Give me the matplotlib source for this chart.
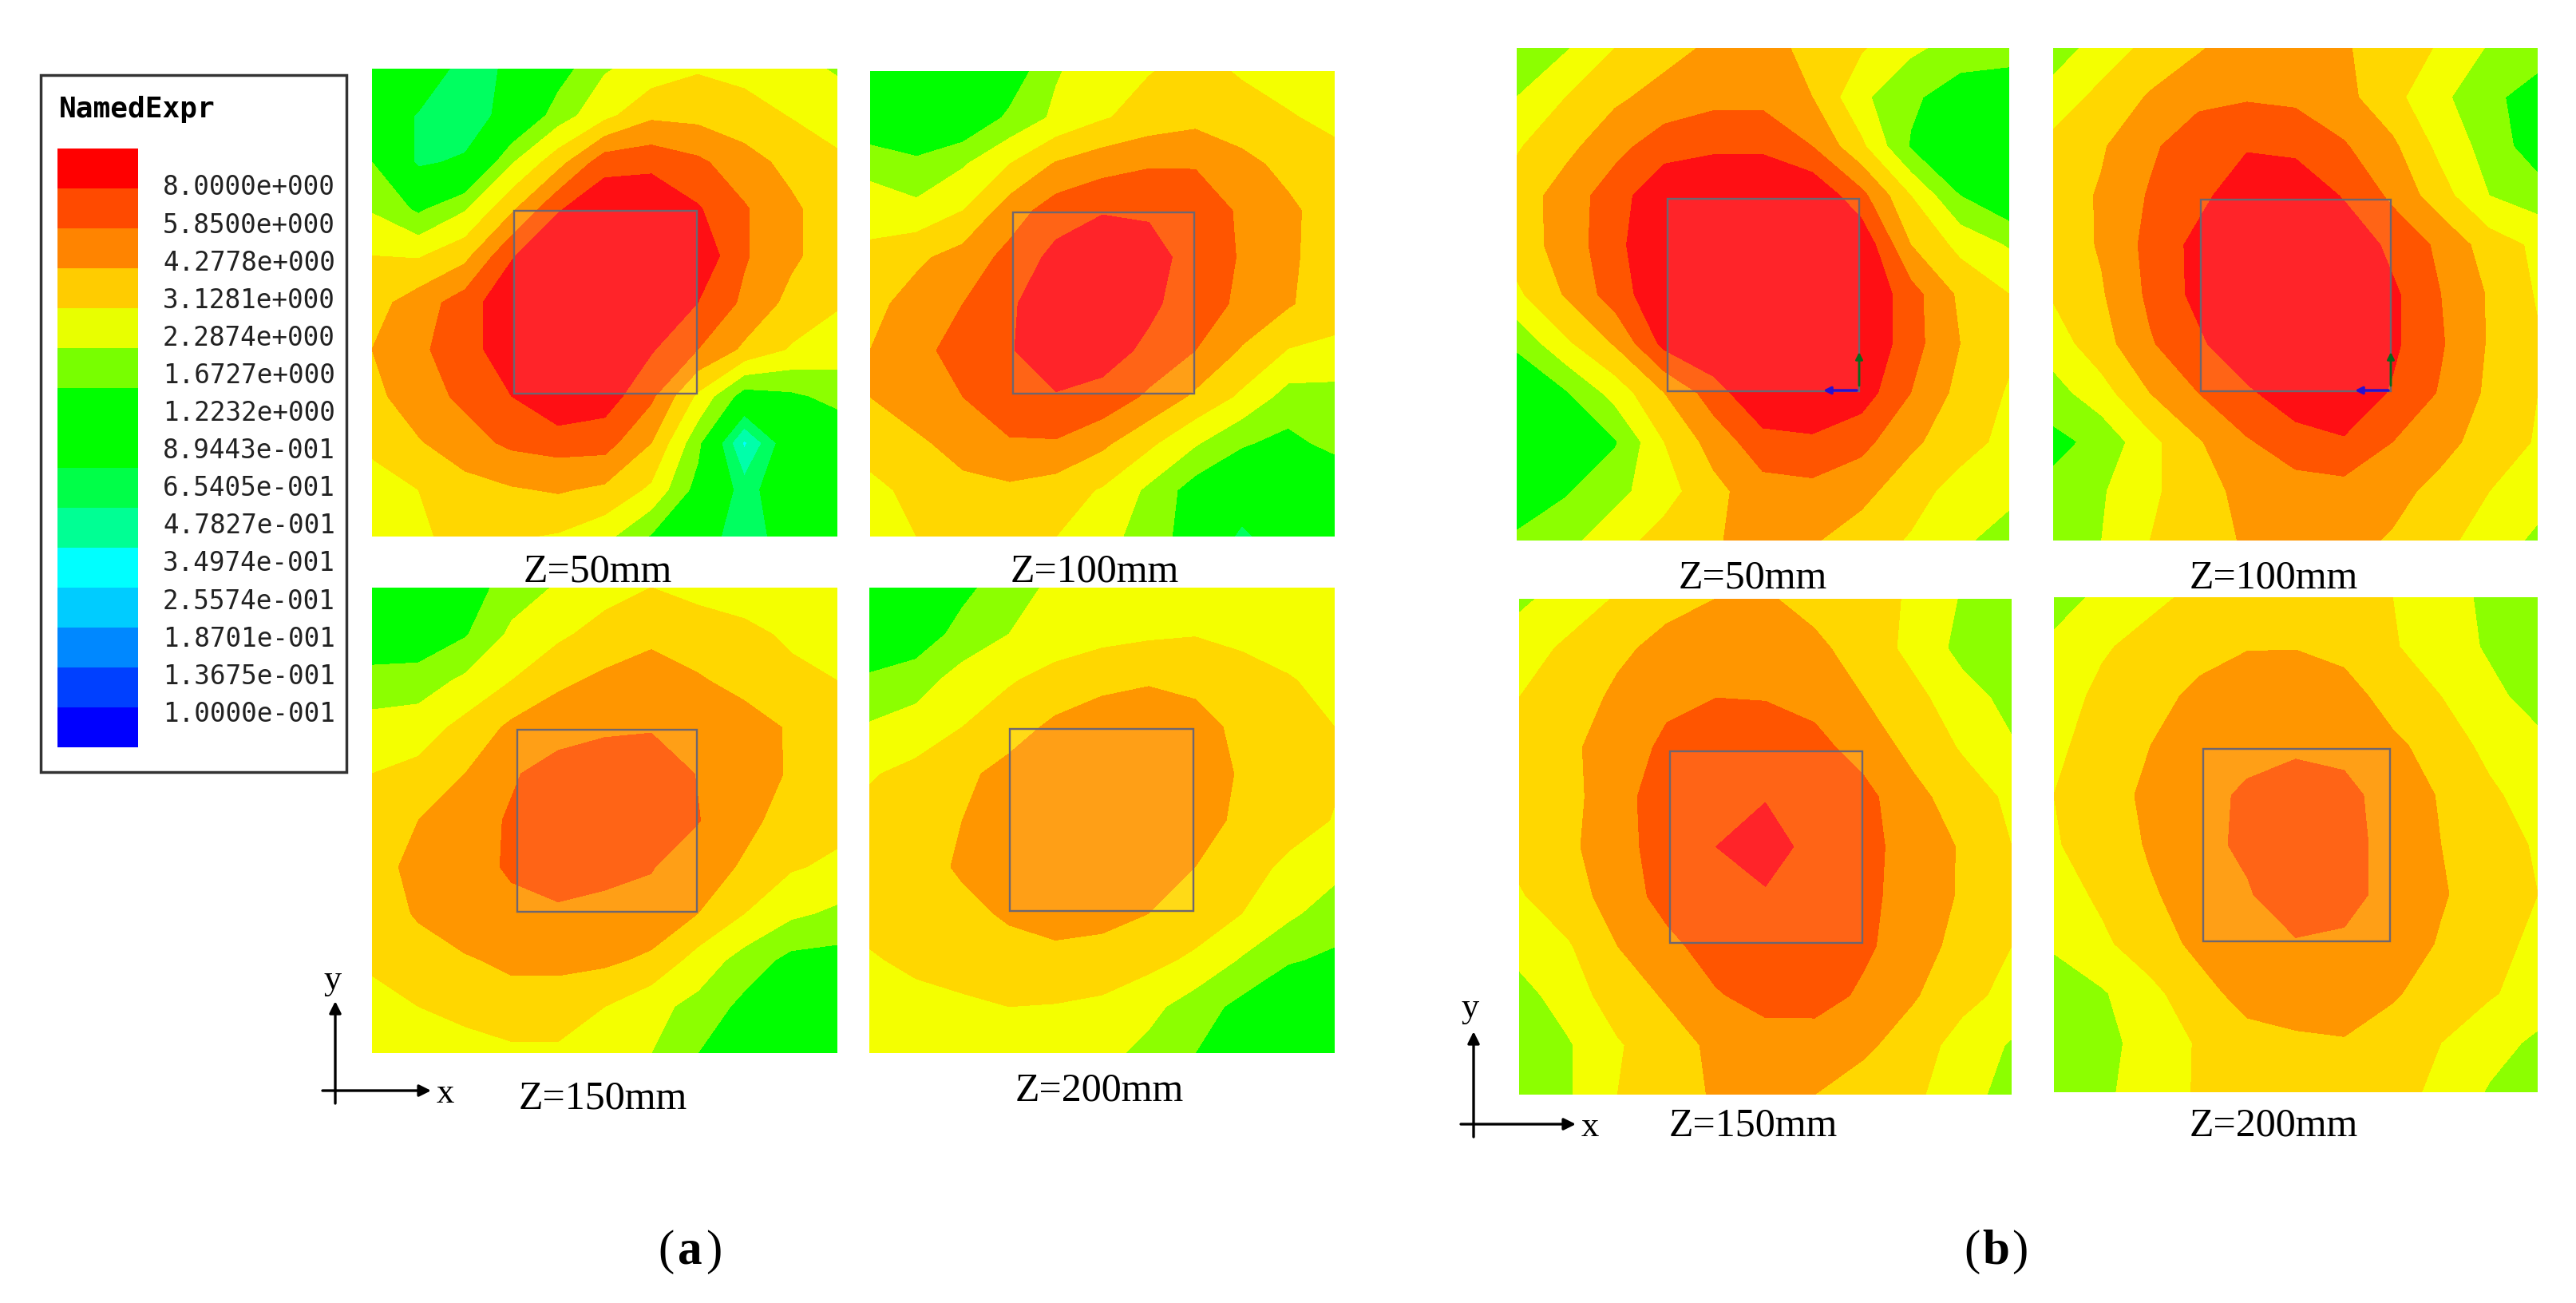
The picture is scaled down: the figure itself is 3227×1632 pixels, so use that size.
import matplotlib
matplotlib.use("Agg")
import matplotlib.pyplot as plt
from matplotlib.patches import Rectangle
import numpy as np

W, H = 3227, 1633

# legend
legend_title = "NamedExpr"
legend_labels = ["8.0000e+000", "5.8500e+000", "4.2778e+000", "3.1281e+000", "2.2874e+000",
                 "1.6727e+000", "1.2232e+000", "8.9443e-001", "6.5405e-001", "4.7827e-001",
                 "3.4974e-001", "2.5574e-001", "1.8701e-001", "1.3675e-001", "1.0000e-001"]
legend_colors = ["#ff0000", "#ff4a00", "#ff8400", "#ffcc00", "#e8ff00", "#78ff00", "#00ff00", "#00ff00",
                 "#00ff48", "#00ff94", "#00ffff", "#00ccff", "#0088ff", "#0040ff", "#0000ff"]

# bands of the contour plots, field given as legend step number
band_levels = [0, 1, 2, 3, 5, 6, 7, 8, 9, 10, 12]
band_colors = ["#00ffff", "#00ffaa", "#00ff60", "#00ff00", "#8cff00", "#f4ff00",
               "#ffd700", "#ff9600", "#ff5500", "#ff0f14"]

# (a) measured
a50 = [
    [4, 4, 2.5, 3.2, 4.5, 5.9, 6.4, 6.9, 6.7, 6.3, 5.9],
    [4, 2.9, 2.2, 3.6, 5.5, 6.7, 7.8, 7.7, 7.4, 6.95, 6.5],
    [5, 2.8, 3.2, 5.9, 7.6, 9.6, 9.7, 9.2, 8.4, 7.7, 7.2],
    [5.9, 4.8, 5.9, 7.8, 9.9, 10.8, 10.9, 10.1, 9.1, 8.2, 7.4],
    [7, 6.9, 7.7, 9.9, 11, 11, 11, 10.8, 9.1, 8.2, 7.4],
    [7.6, 8.5, 9.5, 10.8, 11, 11, 11, 10, 8.8, 7.7, 7.1],
    [8, 8.8, 9.6, 10.6, 11, 11, 10.1, 9, 7.8, 6.9, 6.5],
    [7.7, 8.6, 9.2, 10, 11, 10.5, 9.2, 6.8, 4.5, 4.8, 5.3],
    [7.2, 7.9, 8.6, 9.2, 9.4, 9.4, 8, 5.3, 0.8, 4, 4.2],
    [6.6, 7, 7.6, 7.9, 8.1, 7.8, 6.8, 4.6, 2.5, 4, 4],
    [6.5, 6.9, 7.2, 7.1, 6.9, 6.3, 4.9, 3.5, 2.5, 3.5, 4],
]
a100 = [
    [4, 4, 4, 4.3, 5.9, 6.6, 6.95, 7.3, 6.9, 6.5, 6.3],
    [4, 4, 4, 5.2, 6.2, 6.9, 7.4, 7.7, 7.4, 7.1, 6.7],
    [5.7, 5.2, 5.9, 7, 8.1, 8.6, 8.9, 8.9, 8.3, 7.7, 7.4],
    [6.5, 6.3, 7, 8.5, 9.5, 9.9, 9.9, 9.8, 8.8, 8.2, 7.5],
    [7.3, 7.8, 8.4, 9.3, 10.3, 11, 10.3, 9.7, 8.9, 8.2, 7.4],
    [7.7, 8.4, 9, 9.8, 10.9, 11, 10.2, 9.5, 8.8, 8.1, 7.4],
    [8, 8.7, 9.4, 9.9, 10.8, 10.4, 9.8, 9, 7.9, 6.95, 6.8],
    [8, 8.6, 9, 9.6, 9.9, 9.7, 8.8, 7.8, 6.8, 5.6, 5.6],
    [7.3, 7.8, 8.4, 8.9, 8.9, 8.2, 7.2, 6.1, 5.1, 4.7, 5.3],
    [6.8, 7.2, 7.7, 7.8, 7.5, 6.9, 5.8, 4.5, 4, 4, 4],
    [6.3, 7, 7.3, 7.3, 7, 6.4, 5.5, 4.5, 2.7, 4, 4],
]
a150 = [
    [4, 4, 4.4, 5.5, 6.1, 6.6, 7, 6.7, 6.4, 6.2, 6],
    [4, 4.2, 4.9, 6.2, 6.8, 7.4, 7.7, 7.5, 7.3, 6.8, 6.4],
    [5.5, 5.5, 6.2, 7, 7.8, 8.2, 8.6, 8.1, 7.7, 7.3, 7],
    [6.3, 6.5, 7.3, 8.2, 8.6, 8.8, 8.9, 8.7, 8.4, 7.9, 7.4],
    [7, 7.3, 8, 8.9, 9.4, 9.7, 9.7, 8.95, 8.5, 7.9, 7.5],
    [7.3, 8, 8.6, 9.1, 9.5, 9.7, 9.6, 9.05, 8.2, 7.7, 7.3],
    [7.6, 8.3, 8.7, 9.1, 9.6, 9.3, 9.05, 8.4, 7.9, 7.1, 6.8],
    [7.5, 8.1, 8.6, 8.8, 8.8, 8.7, 8.7, 8, 7, 6.2, 5.8],
    [7.2, 7.6, 7.9, 8.2, 8.2, 8.2, 7.8, 6.6, 5.6, 4.7, 4.6],
    [6.6, 7, 7.3, 7.6, 7.6, 7, 6.3, 5.7, 4.7, 4, 4],
    [6.3, 6.5, 6.6, 6.8, 6.8, 6.5, 6, 5, 4, 4, 4],
]
a200 = [
    [4, 4, 4.7, 5.6, 6.2, 6.4, 6.5, 6.5, 6.4, 6.3, 6.2],
    [4, 4.3, 5.4, 6, 6.4, 6.7, 6.85, 6.95, 6.7, 6.4, 6.2],
    [5.2, 5.6, 6.4, 6.9, 7.4, 7.7, 7.9, 7.8, 7.5, 7.1, 6.6],
    [6.1, 6.4, 7, 7.6, 8.2, 8.6, 8.7, 8.3, 7.8, 7.4, 7],
    [6.9, 7.3, 7.8, 8.3, 8.7, 8.9, 8.9, 8.5, 7.9, 7.5, 7.1],
    [7.3, 7.6, 8, 8.5, 8.8, 8.9, 8.9, 8.4, 7.8, 7.4, 6.95],
    [7.4, 7.7, 8.1, 8.5, 8.8, 8.9, 8.7, 8, 7.4, 6.8, 6.3],
    [7.3, 7.6, 7.8, 8.1, 8.4, 8.3, 8, 7.6, 7, 6.2, 5.5],
    [6.9, 7.2, 7.5, 7.7, 7.7, 7.6, 7.3, 6.8, 5.9, 5.1, 4.8],
    [6.5, 6.7, 6.8, 7, 6.95, 6.8, 6.3, 5.5, 4.7, 4, 4],
    [6.2, 6.4, 6.5, 6.6, 6.5, 6.3, 5.7, 5, 4, 4, 4],
]

# (b) simulated
b50 = [
    [5.6, 5.9, 7, 7.6, 8.2, 8.5, 7.6, 7.1, 6.2, 5.6, 5.5],
    [6, 7, 7.8, 8.4, 8.7, 8.7, 8, 6.2, 5.2, 4.4, 4.2],
    [6.9, 7.7, 8.7, 9.5, 9.8, 9.8, 9, 7.2, 4.9, 4, 4],
    [7.4, 8.5, 9.5, 10.9, 11, 11, 10.9, 9.3, 7, 5, 4],
    [7.5, 8.4, 9.7, 11, 11, 11, 11, 10.8, 8, 6.7, 5.9],
    [6.8, 8.1, 9.5, 10.8, 11, 11, 11, 11, 9.4, 7.8, 7],
    [5.2, 6.8, 8.1, 10.3, 11, 11, 11, 11, 9.4, 8, 7.2],
    [4, 4.9, 6.4, 8, 9.5, 11, 11, 10.5, 9, 7.7, 6.9],
    [4, 4, 4.9, 7, 8.4, 9.6, 9.8, 9.3, 8.2, 7.4, 6.7],
    [4.2, 4.9, 5.7, 6.6, 7.7, 8.6, 8.7, 8.3, 7.4, 6.6, 6.3],
    [5.2, 5.7, 6.6, 7.4, 7.9, 8.4, 8.1, 7.5, 6.9, 6.2, 5.5],
]
b100 = [
    [5.5, 6.4, 7.3, 7.9, 8.5, 8.5, 8.1, 7.5, 6.9, 5.9, 5.6],
    [6.4, 7.3, 8.1, 8.7, 8.9, 8.8, 8.3, 7.3, 6.2, 5.3, 4.4],
    [7.3, 7.9, 8.8, 9.7, 9.9, 9.7, 9.1, 8.2, 6.7, 5.6, 4.4],
    [7.5, 8.1, 9.1, 9.7, 10.7, 10.9, 9.9, 8.8, 7.4, 6, 5.5],
    [7.4, 8.1, 9.3, 10.3, 11, 11, 10.9, 9.7, 8.8, 7.5, 6.8],
    [7.1, 7.9, 9.2, 10.3, 11, 11, 11, 10.2, 9, 7.9, 6.9],
    [6.5, 7.6, 8.9, 9.8, 10.9, 11, 11, 10.2, 9.1, 7.9, 7.1],
    [5.6, 6.6, 8, 9, 9.8, 10.7, 10.7, 9.9, 8.9, 7.8, 7],
    [4.7, 5.3, 6.7, 7.9, 8.9, 9.5, 9.9, 9, 8.3, 7.6, 6.9],
    [5.3, 5.9, 6.8, 7.6, 8.3, 8.6, 8.6, 8.3, 7.7, 7, 6.4],
    [5.6, 6, 7, 7.6, 8.1, 8.4, 8.3, 7.9, 7.3, 6.5, 5.8],
]
b150 = [
    [5.8, 6.4, 7.1, 7.7, 8, 8.1, 7.7, 7.3, 6.9, 5.9, 5.7],
    [6.5, 7.2, 7.8, 8.3, 8.7, 8.8, 8.2, 7.6, 6.7, 5.7, 5.5],
    [7, 7.5, 8.2, 8.8, 9, 8.95, 8.7, 8, 7.3, 6.4, 5.7],
    [7.2, 7.8, 8.5, 9.2, 9.7, 9.7, 9.3, 8.6, 7.7, 6.9, 6.1],
    [7.3, 7.7, 8.6, 9.6, 9.9, 9.95, 9.9, 9.3, 8.3, 7.5, 6.8],
    [7.3, 7.8, 8.6, 9.5, 10, 10.4, 9.7, 9.3, 8.6, 7.9, 7],
    [6.9, 7.6, 8.4, 9.4, 9.8, 9.9, 9.8, 9.3, 8.5, 7.9, 7.1],
    [6.4, 6.9, 8, 8.7, 9.5, 9.7, 9.6, 9.2, 8.4, 7.7, 7],
    [5.6, 6.5, 7.5, 8.1, 8.9, 9.4, 9.5, 8.8, 8.1, 7.3, 6.7],
    [5.2, 5.9, 6.9, 7.6, 8.2, 8.5, 8.4, 8.2, 7.5, 6.6, 5.9],
    [5.2, 5.9, 7, 7.6, 8.1, 8.3, 8, 7.5, 7.2, 6.4, 5.6],
]
b200 = [
    [5.6, 6.2, 6.8, 7.2, 7.5, 7.5, 7.4, 7, 6.4, 5.8, 5.6],
    [6.2, 6.9, 7.3, 7.7, 7.95, 7.95, 7.7, 7.1, 6.4, 5.9, 5.5],
    [6.6, 7.2, 7.7, 8.2, 8.5, 8.7, 8.4, 7.6, 7, 6.2, 5.7],
    [6.8, 7.4, 8, 8.6, 8.8, 8.7, 8.8, 8.2, 7.6, 6.7, 6.2],
    [7, 7.6, 8.2, 8.8, 9.1, 9.8, 9.2, 8.7, 7.9, 7.2, 6.5],
    [6.9, 7.5, 8.1, 8.7, 9.2, 9.8, 9.2, 8.8, 8, 7.4, 6.9],
    [6.5, 7.2, 7.9, 8.4, 8.9, 9.7, 9.2, 8.8, 8.1, 7.5, 7],
    [6.2, 6.8, 7.6, 8.2, 8.7, 8.9, 8.9, 8.6, 7.9, 7.3, 6.8],
    [5.2, 5.9, 6.7, 7.7, 8.3, 8.6, 8.7, 8.1, 7.6, 7.1, 6.6],
    [5, 5.7, 6.4, 7.1, 7.7, 7.8, 7.9, 7.6, 7, 6.4, 5.8],
    [5.2, 5.8, 6.5, 7.1, 7.5, 7.6, 7.5, 7.3, 6.8, 5.9, 5.6],
]

panel_labels = ["Z=50mm", "Z=100mm", "Z=150mm", "Z=200mm"] * 2
panel_fields = [a50, a100, a150, a200, b50, b100, b150, b200]

# pixel layout: panel box, coil square, label position
panel_boxes = [(466, 87, 1049, 673), (1090, 90, 1672, 673), (466, 737, 1049, 1320), (1089, 737, 1672, 1320),
               (1900, 61, 2517, 678), (2572, 61, 3179, 678), (1903, 751, 2520, 1372), (2573, 749, 3179, 1369)]
coil_boxes = [(644, 265, 873, 494), (1269, 267, 1496, 494), (648, 915, 873, 1143), (1265, 914, 1495, 1142),
              (2089, 250, 2329, 491), (2757, 251, 2995, 491), (2092, 942, 2333, 1182), (2760, 939, 2994, 1180)]
label_pos = [(749, 716), (1371, 716), (755, 1376), (1377, 1366),
             (2196, 724), (2848, 724), (2196, 1410), (2848, 1410)]

plt.rcParams["font.family"] = ["Liberation Serif", "DejaVu Serif"]
fig = plt.figure(figsize=(W / 100, H / 100), dpi=100, facecolor="white")

for field, box, coil in zip(panel_fields, panel_boxes, coil_boxes):
    x0, y0, x1, y1 = box
    ax = fig.add_axes([x0 / W, 1 - y1 / H, (x1 - x0) / W, (y1 - y0) / H])
    z = np.array(field)
    xs = np.linspace(x0, x1, z.shape[1])
    ys = np.linspace(y0, y1, z.shape[0])
    ax.contourf(xs, ys, z, levels=band_levels, colors=band_colors)
    ax.set_xlim(x0, x1)
    ax.set_ylim(y1, y0)
    ax.axis("off")
    ax.add_patch(Rectangle((coil[0], coil[1]), coil[2] - coil[0], coil[3] - coil[1],
                           facecolor="white", alpha=0.09, edgecolor="none"))
    ax.add_patch(Rectangle((coil[0], coil[1]), coil[2] - coil[0], coil[3] - coil[1],
                           facecolor="none", edgecolor="#6e6670", linewidth=1.7))

# overlay in pixel coordinates for all the rest
page = fig.add_axes([0, 0, 1, 1], facecolor="none")
page.set_xlim(0, W)
page.set_ylim(H, 0)
page.axis("off")

for (x, y), lab in zip(label_pos, panel_labels):
    page.text(x, y, lab, fontsize=36, ha="center", va="center", color="black")

# legend box
page.add_patch(Rectangle((51, 95), 383, 873, facecolor="white", edgecolor="#333333", linewidth=2.5))
page.text(74, 137, legend_title, fontsize=26, family="DejaVu Sans Mono", weight="bold", va="center")
page.bar([122.5] * 15, [50] * 15, width=101, bottom=[187 + 50 * i for i in range(15)],
         color=legend_colors, linewidth=0)
for i, lab in enumerate(legend_labels):
    page.text(204, 235 + 47.1 * i, lab, fontsize=23.5, family="DejaVu Sans Mono", va="center", color="#222222")

# x-y triads
for ox, oy, y_top, x_right, yl, xl in [(420, 1367, 1255, 540, (417, 1228), (558, 1370)),
                                       (1846, 1409, 1293, 1974, (1842, 1263), (1992, 1412))]:
    page.annotate("", xy=(ox, y_top), xytext=(ox, oy + 16),
                  arrowprops=dict(arrowstyle="-|>", color="black", lw=2.4, mutation_scale=22, shrinkA=0, shrinkB=0))
    page.annotate("", xy=(x_right, oy), xytext=(ox - 16, oy),
                  arrowprops=dict(arrowstyle="-|>", color="black", lw=2.4, mutation_scale=22, shrinkA=0, shrinkB=0))
    page.text(yl[0], yl[1], "y", fontsize=32, ha="center", va="center")
    page.text(xl[0], xl[1], "x", fontsize=32, ha="center", va="center")

# small coordinate arrows in (b) Z=50 and Z=100
for cx, cy in [(2329, 490), (2995, 490)]:
    page.annotate("", xy=(cx, cy - 48), xytext=(cx, cy - 6),
                  arrowprops=dict(arrowstyle="-|>", color="#0a6a1e", lw=2, mutation_scale=13, shrinkA=0, shrinkB=0))
    page.annotate("", xy=(cx - 45, cy), xytext=(cx - 3, cy),
                  arrowprops=dict(arrowstyle="-|>", color="#2a10d0", lw=2.5, mutation_scale=13, shrinkA=0, shrinkB=0))

# sub-figure captions
for x, letter in [(864, "a"), (2500, "b")]:
    page.text(x - 30, 1568, "(", fontsize=44, ha="center", va="center")
    page.text(x, 1568, letter, fontsize=44, weight="bold", ha="center", va="center")
    page.text(x + 30, 1568, ")", fontsize=44, ha="center", va="center")

fig.savefig("out.png", dpi=100)
